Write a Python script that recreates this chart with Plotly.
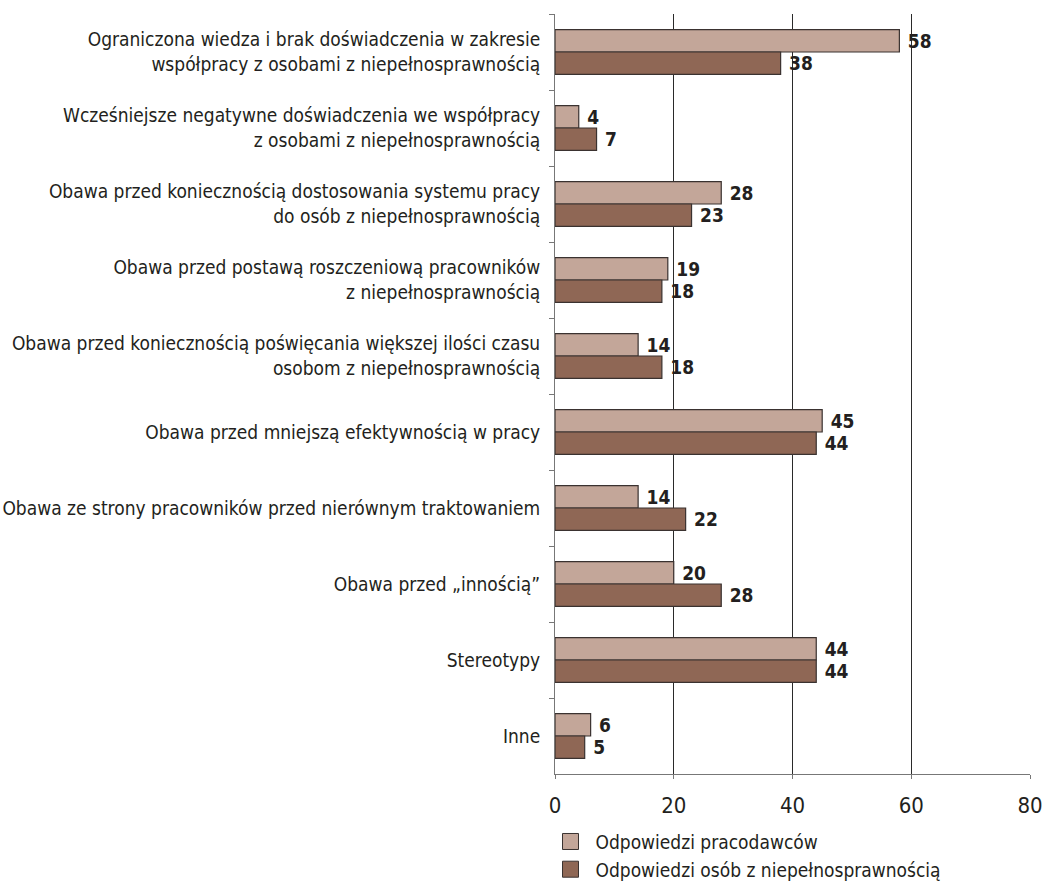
import plotly.graph_objects as go

categories = [
    "Ograniczona wiedza i brak doświadczenia w zakresie<br>współpracy z osobami z niepełnosprawnością",
    "Wcześniejsze negatywne doświadczenia we współpracy<br>z osobami z niepełnosprawnością",
    "Obawa przed koniecznością dostosowania systemu pracy<br>do osób z niepełnosprawnością",
    "Obawa przed postawą roszczeniową pracowników<br>z niepełnosprawnością",
    "Obawa przed koniecznością poświęcania większej ilości czasu<br>osobom z niepełnosprawnością",
    "Obawa przed mniejszą efektywnością w pracy",
    "Obawa ze strony pracowników przed nierównym traktowaniem",
    "Obawa przed „innością”",
    "Stereotypy",
    "Inne",
]
employers = [58, 4, 28, 19, 14, 45, 14, 20, 44, 6]
disabled = [38, 7, 23, 18, 18, 44, 22, 28, 44, 5]
series_names = ["Odpowiedzi pracodawców", "Odpowiedzi osób z niepełnosprawnością"]
x_ticks = [0, 20, 40, 60, 80]

FONT = "DejaVu Sans Condensed, Liberation Sans Narrow, sans-serif"
colors = ["#c3a699", "#8f6755"]
outline = "#3a3230"

fig = go.Figure()
for name, vals, col in zip(series_names, [employers, disabled], colors):
    fig.add_bar(
        y=categories, x=vals, orientation="h", name=name,
        marker=dict(color=col, line=dict(color=outline, width=1.2)),
        texttemplate="\u00a0<b>%{x}</b>", textposition="outside",
        textfont=dict(family=FONT, size=19, color="#231f20"),
        cliponaxis=False, constraintext="none", showlegend=False,
    )
for name, col in zip(series_names, colors):
    fig.add_scatter(
        x=[None], y=[None], mode="markers", name=name,
        marker=dict(symbol="square", size=16, color=col, line=dict(color=outline, width=1)),
    )

fig.update_layout(
    width=1044, height=883,
    margin=dict(l=555, r=14, t=14, b=109, autoexpand=False),
    paper_bgcolor="white", plot_bgcolor="white",
    barmode="group", bargap=0.41, bargroupgap=0,
    font=dict(family=FONT, size=19, color="#231f20"),
    showlegend=True,
    legend=dict(x=-0.02, y=-0.064, xanchor="left", yanchor="top",
                font=dict(family=FONT, size=19, color="#231f20"),
                tracegroupgap=0, itemwidth=40, bgcolor="rgba(0,0,0,0)"),
)
fig.update_xaxes(
    range=[0, 80], tickvals=x_ticks, showgrid=True, gridcolor="#2a2a2a", gridwidth=1,
    showline=True, linecolor="#777", linewidth=1, ticks="outside", ticklen=4,
    tickcolor="#777", zeroline=False, tickfont=dict(family=FONT, size=22),
    ticklabelstandoff=8, automargin=False,
)
fig.update_yaxes(
    autorange="reversed", showline=True, linecolor="#777", linewidth=1,
    ticks="outside", tickson="boundaries", ticklen=5, tickcolor="#777",
    showgrid=False, tickfont=dict(family=FONT, size=19), ticklabelstandoff=10,
    automargin=False,
)

fig.write_html("out.html")
